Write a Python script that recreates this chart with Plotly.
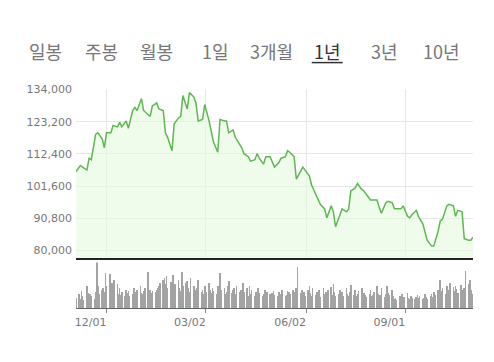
import plotly.graph_objects as go
import pandas as pd

# ---------------- data ----------------
start_date = "2017-11-03"
end_date = "2018-11-02"
trade_days = pd.bdate_range(start_date, end_date)   # daily trading sessions
price_dates = trade_days[::2]                        # price sampled every 2nd session

prices = [
    106500, 108500, 108000, 107000, 111000, 110500, 119000, 119500, 117500, 114500,
    119500, 119500, 122000, 121500, 123000, 121500, 123500, 121000, 127000, 128000,
    127000, 131000, 127000, 125500, 125000, 128500, 129500, 127500, 127000, 119500,
    118000, 113500, 122500, 124500, 125000, 132000, 127500, 133000, 131500, 129500,
    123500, 124000, 129000, 123500, 119500, 116500, 113000, 124000, 123500, 123500,
    119500, 120500, 118000, 115500, 114500, 112500, 111500, 110000, 110500, 112500,
    111000, 109000, 111500, 111500, 110000, 108000, 109500, 111000, 111500, 113500,
    113000, 111500, 104000, 107000, 108000, 107000, 105000, 102000, 98500, 97000,
    95500, 94000, 91000, 95000, 93000, 88000, 92000, 94000, 93000, 94000,
    100000, 101000, 102500, 100500, 100000, 99000, 97000, 97000, 97000, 94500,
    92500, 96000, 96500, 96000, 94000, 94000, 94000, 95000, 91500, 91000,
    92000, 93500, 91500, 89000, 86500, 83500, 81500, 81500, 86500, 90000,
    90500, 95000, 95500, 95000, 91500, 93500, 93000, 84000, 83500, 83500,
    84500,
]

volumes = [  # thousand shares, one per session
    100, 140, 90, 170, 120, 80, 220, 150, 100, 140,
    120, 90, 160, 460, 220, 140, 180, 200, 160, 350,
    220, 340, 200, 250, 180, 280, 240, 140, 200, 130,
    160, 120, 180, 150, 170, 120, 140, 200, 160, 140,
    180, 220, 150, 140, 170, 200, 360, 160, 180, 150,
    170, 160, 180, 200, 220, 250, 280, 300, 240, 320,
    200, 260, 220, 330, 180, 240, 280, 200, 170, 360,
    220, 250, 270, 200, 160, 300, 220, 180, 140, 200,
    280, 160, 180, 140, 220, 160, 250, 180, 150, 200,
    170, 140, 220, 160, 350, 180, 200, 140, 160, 220,
    270, 150, 180, 200, 140, 220, 160, 180, 140, 250,
    160, 200, 120, 220, 140, 180, 120, 160, 140, 200,
    150, 120, 140, 180, 110, 160, 140, 120, 150, 170,
    130, 120, 160, 110, 140, 180, 120, 130, 170, 160,
    140, 180, 160, 120, 200, 410, 150, 180, 130, 160,
    120, 180, 220, 150, 120, 200, 130, 160, 140, 180,
    110, 200, 140, 160, 120, 180, 210, 130, 240, 160,
    120, 140, 180, 130, 160, 120, 200, 140, 120, 160,
    230, 130, 180, 120, 140, 170, 200, 120, 150, 130,
    110, 140, 180, 120, 130, 160, 220, 140, 120, 130,
    200, 110, 140, 220, 150, 130, 180, 120, 90, 100,
    80, 120, 100, 140, 90, 110, 150, 100, 90, 120,
    100, 90, 110, 130, 100, 120, 90, 100, 140, 110,
    90, 120, 140, 110, 160, 130, 180, 150, 280, 170,
    200, 140, 220, 180, 160, 250, 210, 170, 220, 190,
    150, 230, 180, 140, 200, 370, 240, 280, 180, 140,
    100,
]

y_ticks = [80000, 90800, 101600, 112400, 123200, 134000]
y_tick_labels = ["80,000", "90,800", "101,600", "112,400", "123,200", "134,000"]
x_ticks = ["2017-12-01", "2018-03-02", "2018-06-02", "2018-09-01"]
x_tick_labels = ["12/01", "03/02", "06/02", "09/01"]
periods = ["일봉", "주봉", "월봉", "1일", "3개월", "1년", "3년", "10년"]
selected_period = "1년"

# ---------------- layout geometry ----------------
OFF = 8                     # page body margin of the html page
W, H = 494 - OFF, 362 - OFF
L, R = 76 - OFF, 29 - OFF
plot_w = W - L - R


def px_x(px):
    return (px - OFF - L) / plot_w


def px_y(py):
    return (H - (py - OFF)) / H


fig = go.Figure()

fig.add_trace(go.Scatter(
    x=price_dates, y=prices, mode="lines",
    line=dict(color="#5cb84f", width=1.5),
    fill="tozeroy", fillcolor="rgba(228,250,222,0.6)",
    xaxis="x", yaxis="y", hoverinfo="skip", showlegend=False,
))

fig.add_trace(go.Bar(
    x=trade_days, y=volumes,
    marker=dict(color="#a3a3a3", line=dict(width=0)),
    width=86400000 * 0.6,
    xaxis="x2", yaxis="y2", hoverinfo="skip", showlegend=False,
))

font_lbl = dict(family="DejaVu Sans", size=11, color="#777777")

fig.update_layout(
    width=W, height=H,
    margin=dict(l=L, r=R, t=0, b=0),
    paper_bgcolor="white", plot_bgcolor="white",
    bargap=0,
    xaxis=dict(
        domain=[0, 1], range=[start_date, end_date], anchor="y",
        tickvals=x_ticks, showticklabels=False, ticks="",
        showgrid=True, gridcolor="#e6e6e6", gridwidth=1,
        showline=True, linecolor="#222222", linewidth=2,
        zeroline=False,
    ),
    yaxis=dict(
        domain=[px_y(256.5), px_y(85)], range=[77520, 134230],
        tickvals=y_ticks, ticktext=y_tick_labels, tickfont=font_lbl,
        showgrid=True, gridcolor="#e6e6e6", gridwidth=1,
        zeroline=False, showline=False, ticks="", ticklabelstandoff=3,
    ),
    xaxis2=dict(
        domain=[0, 1], range=[start_date, end_date], anchor="y2",
        tickvals=x_ticks, ticktext=x_tick_labels, tickfont=font_lbl,
        ticks="outside", ticklen=4, tickcolor="#888888",
        showgrid=False, showline=True, linecolor="#666666", linewidth=1,
        zeroline=False, ticklabelshift=-16, ticklabelstandoff=0,
    ),
    yaxis2=dict(
        domain=[px_y(307.5), px_y(261)], range=[0, 465],
        showticklabels=False, showgrid=False, zeroline=False, ticks="",
    ),
)

centers = [45, 101, 156, 215, 271, 327, 384, 441]
for label, cx in zip(periods, centers):
    fig.add_annotation(
        x=px_x(cx), y=px_y(47), xref="paper", yref="paper",
        text=label, showarrow=False, xanchor="center", yanchor="middle",
        font=dict(family="Noto Sans CJK KR", size=18,
                  color="#333333" if label == selected_period else "#777777"),
    )

fig.add_shape(type="line", xref="paper", yref="paper",
              x0=px_x(311.7), x1=px_x(342.7), y0=px_y(58.3), y1=px_y(58.3),
              line=dict(color="#333333", width=1.5))
fig.add_shape(type="line", xref="paper", yref="paper",
              x0=px_x(490.5), x1=px_x(490.5), y0=0, y1=1,
              line=dict(color="#eeeeee", width=1))

fig.write_html("out.html")
